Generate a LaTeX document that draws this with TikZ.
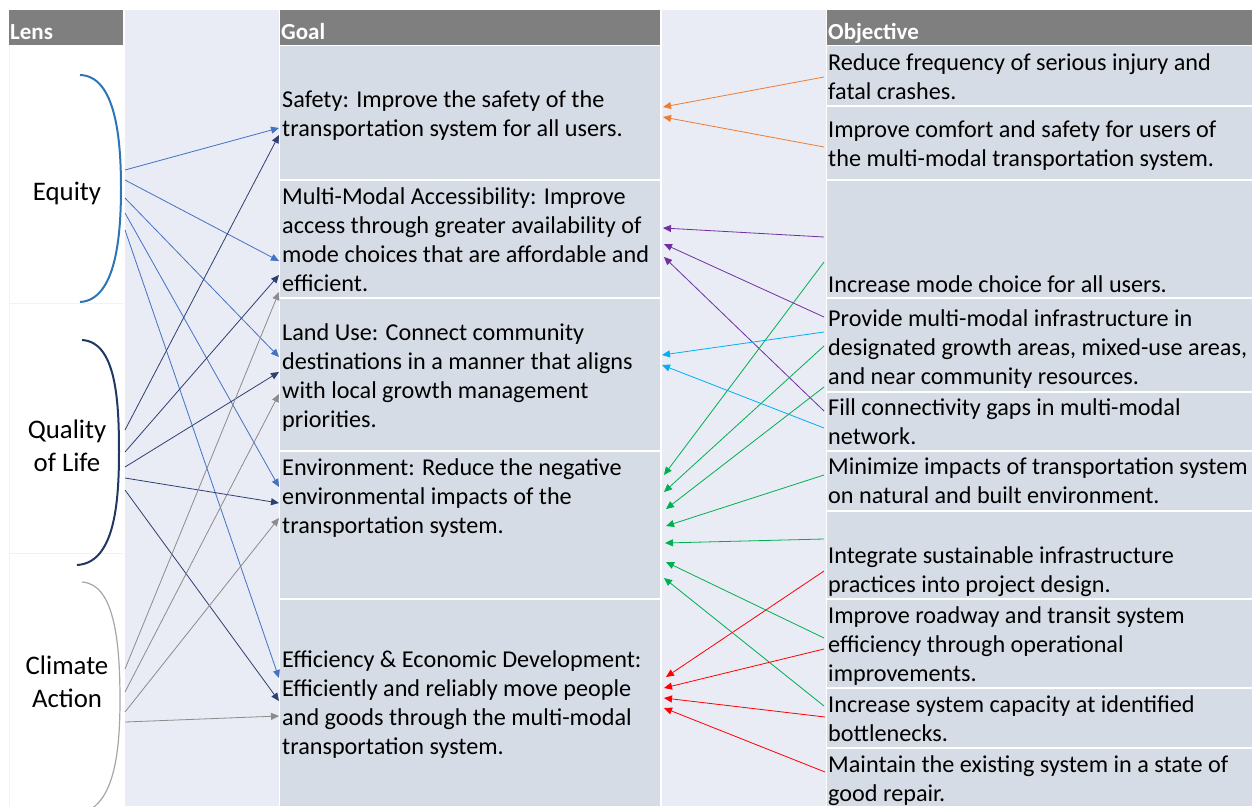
\documentclass[tikz,border=0pt]{standalone}
\usepackage{fontspec}
\setmainfont{Carlito}
\usetikzlibrary{arrows.meta}
\definecolor{hdr}{HTML}{7F7F7F}
\definecolor{gapc}{HTML}{E9EBF5}
\definecolor{cellc}{HTML}{D6DCE5}
\definecolor{lensln}{HTML}{F2F2F2}
\definecolor{eqc}{HTML}{2E75B6}
\definecolor{eqa}{HTML}{4472C4}
\definecolor{qlc}{HTML}{203864}
\definecolor{qla}{HTML}{2F4070}
\definecolor{cac}{HTML}{A6A6A6}
\definecolor{caa}{HTML}{8C8C8C}
\definecolor{orc}{HTML}{ED7D31}
\definecolor{puc}{HTML}{7030A0}
\definecolor{cyc}{HTML}{00B0F0}
\definecolor{grc}{HTML}{00B050}
\definecolor{rdc}{HTML}{FF0000}
\tikzset{
  arr/.style={-{Triangle[length=8pt,width=7pt]}, line width=0.8pt},
  gtxt/.style={anchor=base west, align=left, inner sep=0pt, font=\fontsize{24.2}{29}\selectfont},
  ltxt/.style={anchor=base, align=center, inner sep=0pt, font=\fontsize{26.8}{33}\selectfont},
  htxt/.style={anchor=base west, inner sep=0pt, text=white, font=\bfseries\fontsize{23}{27}\selectfont},
  brk/.style={line width=2pt},
}
\begin{document}
\begin{tikzpicture}[x=1pt,y=-1pt]
\useasboundingbox (0,0) rectangle (1252,806);
\clip (0,0) rectangle (1252,806);
% gap columns
\fill[gapc] (125,10) rectangle (279,806);
\fill[gapc] (662,10) rectangle (826,806);
% headers
\fill[hdr] (9,10) rectangle (123,45);
\fill[hdr] (280,10) rectangle (660,45);
\fill[hdr] (827,10) rectangle (1252,45);
% lens column faint lines
\draw[lensln, line width=0.8pt] (9,46) -- (9,806);
\draw[lensln, line width=0.8pt] (9,303) -- (123,303);
\draw[lensln, line width=0.8pt] (9,553) -- (123,553);
% goal cells
\foreach \a/\b in {46/179,181/297,299/450,452/598,600/806}
  \fill[cellc] (280,\a) rectangle (660,\b);
% objective cells
\foreach \a/\b in {46/105,107/179,181/297,299/391,393/450,452/510,512/598,600/687,689/747,749/806}
  \fill[cellc] (827,\a) rectangle (1252,\b);

% headers text
\node[htxt] (hlens) at (10,39) {Lens};
\node[htxt] (hgoal) at (281,39) {Goal};
\node[htxt] (hobj) at (828,39) {Objective};

% lens labels (anchor = baseline of last line)
\node[ltxt] (lequity) at (67,200) {Equity};
\node[ltxt] (lqol) at (67,471) {Quality\\of Life};
\node[ltxt] (lclim) at (67,707) {Climate\\Action};

% brackets
\draw[brk, eqc] (80,75) .. controls (116,76) and (121,140) .. (121,188) .. controls (121,236) and (116,300) .. (80,302);
\draw[brk, qlc] (82,340) .. controls (116,342) and (119,400) .. (119,452) .. controls (119,505) and (114,563) .. (77,565);
\draw[line width=1.2pt, cac] (82,582) .. controls (114,584) and (120,640) .. (120,700) .. controls (120,760) and (112,800) .. (86,812);

% goal texts (anchor = baseline of last line)
\node[gtxt] (gsafety) at (282,136) {Safety: Improve the safety of the\\transportation system for all users.};
\node[gtxt] (gmulti) at (282,291) {Multi-Modal Accessibility: Improve\\access through greater availability of\\mode choices that are affordable and\\efficient.};
\node[gtxt] (gland) at (282,427) {Land Use: Connect community\\destinations in a manner that aligns\\with local growth management\\priorities.};
\node[gtxt] (genv) at (282,533) {Environment: Reduce the negative\\environmental impacts of the\\transportation system.};
\node[gtxt] (geff) at (282,754) {Efficiency \& Economic Development:\\Efficiently and reliably move people\\and goods through the multi-modal\\transportation system.};

% objective texts (anchor = baseline of last line)
\node[gtxt] (o1) at (828,99) {Reduce frequency of serious injury and\\fatal crashes.};
\node[gtxt] (o2) at (828,166) {Improve comfort and safety for users of\\the multi-modal transportation system.};
\node[gtxt] (o3) at (828,292) {Increase mode choice for all users.};
\node[gtxt] (o4) at (828,384) {Provide multi-modal infrastructure in\\designated growth areas, mixed-use areas,\\and near community resources.};
\node[gtxt] (o5) at (828,444) {Fill connectivity gaps in multi-modal\\network.};
\node[gtxt] (o6) at (828,503) {Minimize impacts of transportation system\\on natural and built environment.};
\node[gtxt] (o7) at (828,592) {Integrate sustainable infrastructure\\practices into project design.};
\node[gtxt] (o8) at (828,681) {Improve roadway and transit system\\efficiency through operational\\improvements.};
\node[gtxt] (o9) at (828,741) {Increase system capacity at identified\\bottlenecks.};
\node[gtxt] (o10) at (828,801) {Maintain the existing system in a state of\\good repair.};

% ---- left connector endpoints
\coordinate (e1) at (125,170); \coordinate (e2) at (125,180); \coordinate (e3) at (125,198);
\coordinate (e4) at (125,213); \coordinate (e5) at (125,230);
\coordinate (q1) at (125,430); \coordinate (q2) at (125,452); \coordinate (q3) at (125,467);
\coordinate (q4) at (125,478); \coordinate (q5) at (125,490);
\coordinate (c1) at (125,669); \coordinate (c2) at (125,692); \coordinate (c3) at (125,712);
\coordinate (c4) at (125,722);
\coordinate (ge1) at (279,128); \coordinate (ge2) at (279,261); \coordinate (ge3) at (279,357);
\coordinate (ge4) at (279,487); \coordinate (ge5) at (279,678);
\coordinate (gq1) at (279,135); \coordinate (gq2) at (279,275); \coordinate (gq3) at (279,372);
\coordinate (gq4) at (279,503); \coordinate (gq5) at (279,701);
\coordinate (gc1) at (279,292); \coordinate (gc2) at (279,394); \coordinate (gc3) at (279,518);
\coordinate (gc4) at (279,716);
\foreach \i in {1,...,5} \draw[arr, eqa] (e\i) -- (ge\i);
\foreach \i in {1,...,5} \draw[arr, qla] (q\i) -- (gq\i);
\foreach \i in {1,...,4} \draw[arr, caa] (c\i) -- (gc\i);

% ---- right connector endpoints
\coordinate (or1) at (824,77); \coordinate (ot1) at (663,107);
\coordinate (or2) at (824,147); \coordinate (ot2) at (663,117);
\coordinate (pr1) at (824,237); \coordinate (pt1) at (663,228);
\coordinate (pr2) at (824,317); \coordinate (pt2) at (664,244);
\coordinate (pr3) at (824,411); \coordinate (pt3) at (664,257);
\coordinate (cr1) at (824,332); \coordinate (ct1) at (662,355);
\coordinate (cr2) at (824,428); \coordinate (ct2) at (662,365);
\coordinate (gr1) at (824,262); \coordinate (gt1) at (664,475);
\coordinate (gr2) at (824,346); \coordinate (gt2) at (664,492);
\coordinate (gr3) at (824,387); \coordinate (gt3) at (666,509);
\coordinate (gr4) at (824,475); \coordinate (gt4) at (666,526);
\coordinate (gr5) at (824,539); \coordinate (gt5) at (665,543);
\coordinate (gr6) at (824,638); \coordinate (gt6) at (666,562);
\coordinate (gr7) at (824,706); \coordinate (gt7) at (664,578);
\coordinate (rr1) at (824,571); \coordinate (rt1) at (666,677);
\coordinate (rr2) at (824,649); \coordinate (rt2) at (664,688);
\coordinate (rr3) at (825,717); \coordinate (rt3) at (664,698);
\coordinate (rr4) at (825,772); \coordinate (rt4) at (664,708);
\foreach \i in {1,2} \draw[arr, orc] (or\i) -- (ot\i);
\foreach \i in {1,2,3} \draw[arr, puc] (pr\i) -- (pt\i);
\foreach \i in {1,2} \draw[arr, cyc] (cr\i) -- (ct\i);
\foreach \i in {1,...,7} \draw[arr, grc] (gr\i) -- (gt\i);
\foreach \i in {1,...,4} \draw[arr, rdc] (rr\i) -- (rt\i);
\end{tikzpicture}
\end{document}
